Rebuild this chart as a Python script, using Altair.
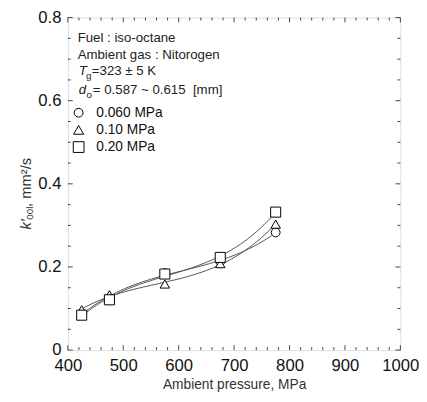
import altair as alt
import pandas as pd

# ---- data ----
pressure = [425, 475, 575, 675, 775]
series_names = ["0.060 MPa", "0.10 MPa", "0.20 MPa"]
k_060 = [0.088, 0.125, 0.185, 0.213, 0.283]
k_010 = [0.097, 0.133, 0.159, 0.208, 0.303]
k_020 = [0.084, 0.121, 0.183, 0.223, 0.332]
shapes = ["circle", "triangle-up", "square"]
sizes = [80, 105, 120]

x_major = [400, 500, 600, 700, 800, 900, 1000]
x_minor = [v for v in range(420, 1000, 20) if v % 100 != 0]
y_major = [0.0, 0.2, 0.4, 0.6, 0.8]
y_minor = [0.05, 0.1, 0.15, 0.25, 0.3, 0.35, 0.45, 0.5, 0.55, 0.65, 0.7, 0.75]

notes = ["Fuel : iso-octane", "Ambient gas : Nitorogen"]
tg_parts = ["T", "g", "=323 ± 5 K"]
do_parts = ["d", "o", "= 0.587 ~ 0.615 \u00a0[mm]"]
ytitle_parts = ["k′", "00l", ", mm²/s"]
xtitle = "Ambient pressure, MPa"

rows = []
for name, vals in zip(series_names, [k_060, k_010, k_020]):
    for p, v in zip(pressure, vals):
        rows.append({"p": p, "k": v, "s": name})
df = pd.DataFrame(rows)

W, H = 339, 339
FONT = "Liberation Sans"

xs = alt.Scale(domain=[400, 1000], nice=False, zero=False)
ys = alt.Scale(domain=[0, 0.8], nice=False, zero=False)
shape_scale = alt.Scale(domain=series_names, range=shapes)
size_scale = alt.Scale(domain=series_names, range=sizes)

x_axis = alt.Axis(values=x_major, title=xtitle, ticks=False, domain=False,
                  grid=False, labelFontSize=17, labelPadding=8, format="d",
                  titleFontSize=14, titleFontWeight="normal",
                  titleColor="#333", titlePadding=4, labelColor="#111",
                  labelFont=FONT, titleFont=FONT, labelFlush=False)
y_axis = alt.Axis(values=y_major, title=None, ticks=False, domain=False,
                  grid=False, labelFontSize=17, labelPadding=7,
                  labelColor="#111", labelFont=FONT,
                  labelExpr="datum.value == 0 ? '0' : format(datum.value, '.1f')")

base = alt.Chart(df)

lines = base.transform_regression(
    "p", "k", groupby=["s"], method="poly", order=3
).mark_line(color="#555", strokeWidth=1).encode(
    x=alt.X("p:Q", scale=xs, axis=x_axis),
    y=alt.Y("k:Q", scale=ys, axis=y_axis),
    detail="s:N",
)

points = base.mark_point(filled=False, fill="white", stroke="black", strokeWidth=1,
                         opacity=1, fillOpacity=1).encode(
    x=alt.X("p:Q", scale=xs, axis=x_axis),
    y=alt.Y("k:Q", scale=ys, axis=y_axis),
    shape=alt.Shape("s:N", scale=shape_scale, legend=None),
    size=alt.Size("s:N", scale=size_scale, legend=None),
    order=alt.Order("s:N"),
)


def ticks_x(vals, length, top):
    d = pd.DataFrame({"p": vals})
    if top:
        enc = dict(y=alt.value(0), y2=alt.value(length))
    else:
        enc = dict(y=alt.value(H), y2=alt.value(H - length))
    return alt.Chart(d).mark_rule(color="#444", strokeWidth=1).encode(
        x=alt.X("p:Q", scale=xs, axis=x_axis), **enc)


def ticks_y(vals, length, right):
    d = pd.DataFrame({"k": vals})
    if right:
        enc = dict(x=alt.value(W), x2=alt.value(W - length))
    else:
        enc = dict(x=alt.value(0), x2=alt.value(length))
    return alt.Chart(d).mark_rule(color="#444", strokeWidth=1).encode(
        y=alt.Y("k:Q", scale=ys, axis=y_axis), **enc)


tick_layers = [
    ticks_x(x_major, 5, False), ticks_x(x_minor, 3, False),
    ticks_x(x_major, 5, True), ticks_x(x_minor, 3, True),
    ticks_y(y_major, 5, False), ticks_y(y_minor, 3, False),
    ticks_y(y_major, 5, True), ticks_y(y_minor, 3, True),
]

txt = dict(font=FONT, fontSize=13.5, color="#222", align="left", baseline="middle")
sub = dict(font=FONT, fontSize=10, color="#222", align="left", baseline="middle")
ann = [
    alt.Chart().mark_text(text=notes[0], **txt).encode(x=alt.value(10), y=alt.value(21)),
    alt.Chart().mark_text(text=notes[1], **txt).encode(x=alt.value(10), y=alt.value(38)),
    alt.Chart().mark_text(text=tg_parts[0], fontStyle="italic", **txt).encode(x=alt.value(11), y=alt.value(55)),
    alt.Chart().mark_text(text=tg_parts[1], **sub).encode(x=alt.value(18.5), y=alt.value(60)),
    alt.Chart().mark_text(text=tg_parts[2], **txt).encode(x=alt.value(24.5), y=alt.value(55)),
    alt.Chart().mark_text(text=do_parts[0], fontStyle="italic", **txt).encode(x=alt.value(11), y=alt.value(74)),
    alt.Chart().mark_text(text=do_parts[1], **sub).encode(x=alt.value(19), y=alt.value(79)),
    alt.Chart().mark_text(text=do_parts[2], **txt).encode(x=alt.value(25.5), y=alt.value(74)),
]

# legend (manual, using the same shapes/sizes as the data marks)
legend_layers = []
for i, (name, shp, sz) in enumerate(zip(series_names, shapes, sizes)):
    yy = 97 + i * 17.5
    legend_layers.append(
        alt.Chart().mark_point(shape=shp, size=sz, filled=False, fill="white",
                               stroke="black", strokeWidth=1, opacity=1).encode(
            x=alt.value(11), y=alt.value(yy)))
    legend_layers.append(
        alt.Chart().mark_text(text=name, font=FONT, fontSize=14, color="#111",
                              align="left", baseline="middle").encode(
            x=alt.value(29), y=alt.value(yy)))

yt = dict(font=FONT, color="#333", align="left", baseline="middle", angle=270)
ytitle = [
    alt.Chart().mark_text(text=ytitle_parts[0], fontStyle="italic", fontSize=15, **yt).encode(
        x=alt.value(-43), y=alt.value(216)),
    alt.Chart().mark_text(text=ytitle_parts[1], fontSize=10, **yt).encode(
        x=alt.value(-39), y=alt.value(206)),
    alt.Chart().mark_text(text=ytitle_parts[2], fontSize=15, **yt).encode(
        x=alt.value(-43), y=alt.value(193)),
]

chart = alt.layer(lines, *tick_layers, points, *ann, *legend_layers, *ytitle).properties(
    width=W, height=H,
    autosize=alt.AutoSizeParams(type="none"),
    padding={"left": 61, "top": 6, "right": 19, "bottom": 41},
).configure_view(stroke="#555", strokeWidth=1.2).configure(background="white")

chart.save("out.html", embed_options={"renderer": "svg", "actions": False})
